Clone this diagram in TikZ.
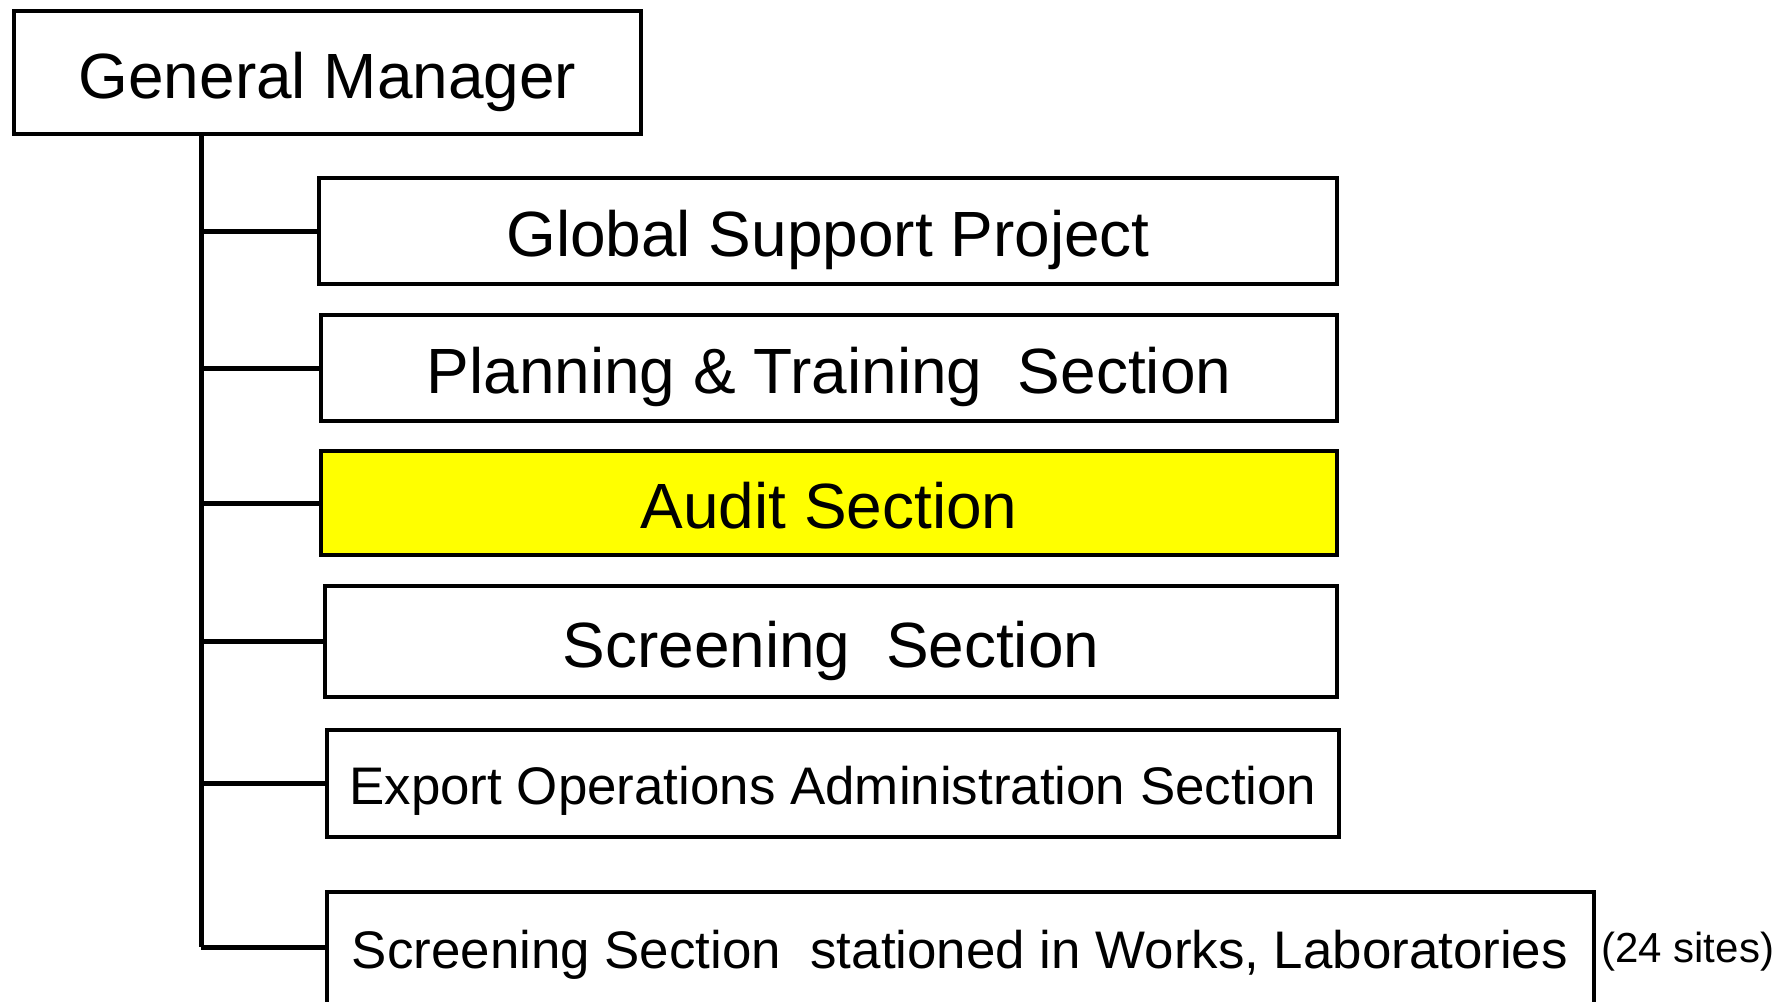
\documentclass[tikz,border=0pt]{standalone}
\usepackage{fontspec}
\setmainfont{Liberation Sans}
\usetikzlibrary{positioning}
\definecolor{audityellow}{RGB}{255,255,0}
\tikzset{
  unitbox/.style={draw=black,line width=0.09cm,inner sep=0pt,align=center},
  bigtext/.style={font=\fontsize{36.4}{40}\selectfont,text height=29.1pt,text depth=0pt},
  midtext/.style={font=\fontsize{30.1}{34}\selectfont,text height=24.1pt,text depth=0pt},
  smalltext/.style={font=\fontsize{23.9}{26}\selectfont,text height=19.1pt,text depth=0pt},
  link/.style={line width=0.1cm}
}
\begin{document}
\begin{tikzpicture}[x=0.02cm,y=-0.02cm]
\useasboundingbox (0,0) rectangle (1775,1001);
\clip (0,0) rectangle (1775,1001);
%\draw[step=100,gray,very thin] (0,0) grid (1775,1001);
\node[unitbox,bigtext,minimum width=12.54cm,minimum height=2.46cm] (gm) at (327.5,72.5) {General Manager};

\node[unitbox,bigtext,minimum width=20.36cm,minimum height=2.12cm] (gsp) at (828,231) {Global Support Project};
\node[unitbox,bigtext,minimum width=20.32cm,minimum height=2.12cm] (plan) at (829,368) {Planning \& Training\ \ Section};
\node[unitbox,bigtext,fill=audityellow,minimum width=20.32cm,minimum height=2.08cm] (audit) at (829,503) {Audit Section};
\node[unitbox,bigtext,minimum width=20.24cm,minimum height=2.22cm] (scr) at (831,641.5) {Screening\ \ Section};
\node[unitbox,midtext,minimum width=20.24cm,minimum height=2.14cm] (exp) at (833,783.5) {Export Operations Administration Section};
\node[unitbox,minimum width=25.34cm,minimum height=2.76cm] (works) at (960.5,961) {};
\node[midtext,inner sep=0pt] (workstext) at (960,947) {Screening Section\ \ stationed in Works, Laboratories};
\node[smalltext,anchor=west,inner sep=0pt] (sites) at (1601,946) {(24 sites)};

\coordinate (trunk) at (201,0);
\draw[link] (trunk |- gm.south) -- (trunk |- workstext);
\draw[link] (trunk |- gsp.west) -- (gsp.west);
\draw[link] (trunk |- plan.west) -- (plan.west);
\draw[link] (trunk |- audit.west) -- (audit.west);
\draw[link] (trunk |- scr.west) -- (scr.west);
\draw[link] (trunk |- exp.west) -- (exp.west);
\draw[link] (trunk |- workstext) -- (works.west |- workstext);

\end{tikzpicture}
\end{document}
